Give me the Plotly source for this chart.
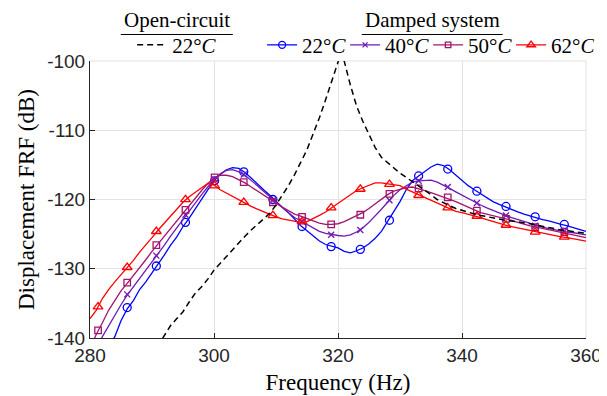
import plotly.graph_objects as go

# ---------------- data ----------------
freq = list(range(280, 361))  # Hz, 1 Hz grid

damped_22 = [-146.0, -144.5, -143.0, -141.3, -139.8, -137.5, -135.8, -134.6, -133.0, -131.9,
             -130.5, -129.3, -128.0, -126.6, -125.4, -123.9, -122.7, -121.3, -120.0, -118.6,
             -117.3, -116.4, -115.7, -115.4, -115.5, -116.1, -116.9, -117.8, -118.6, -119.4,
             -120.3, -121.1, -121.9, -122.9, -123.8, -124.5, -125.3, -126.0, -126.5, -126.8,
             -127.0, -127.5, -127.7, -127.4, -127.0, -126.4, -125.6, -124.6, -123.2, -121.8,
             -120.3, -118.6, -117.3, -116.6, -115.9, -115.3, -114.9, -115.1, -115.7, -116.5,
             -117.3, -118.0, -118.6, -119.2, -119.8, -120.3, -120.7, -121.1, -121.4, -121.8,
             -122.1, -122.4, -122.6, -122.9, -123.1, -123.4, -123.6, -123.8, -124.1, -124.4,
             -124.6]

damped_40 = [-143.5, -141.5, -139.8, -138.2, -136.7, -135.2, -133.8, -132.6, -131.4, -130.3,
             -129.0, -127.8, -126.6, -125.3, -124.1, -122.8, -121.6, -120.4, -119.3, -118.2,
             -117.1, -116.3, -115.8, -115.7, -116.0, -116.5, -117.2, -118.0, -118.8, -119.6,
             -120.4, -121.2, -121.9, -122.6, -123.1, -123.6, -124.1, -124.6, -124.9, -125.1,
             -125.2, -125.3, -125.1, -124.7, -124.1, -123.3, -122.4, -121.4, -120.4, -119.4,
             -118.6, -118.0, -117.5, -117.3, -117.2, -117.2, -117.5, -117.9, -118.4, -118.9,
             -119.4, -119.9, -120.4, -120.8, -121.2, -121.6, -122.0, -122.3, -122.6, -122.9,
             -123.2, -123.5, -123.8, -124.0, -124.2, -124.4, -124.6, -124.7, -124.8, -125.0,
             -125.1]

damped_50 = [-141.5, -139.5, -137.8, -136.0, -134.6, -133.2, -132.1, -131.0, -129.9, -128.7,
             -127.5, -126.4, -125.3, -124.1, -123.0, -121.9, -120.8, -119.8, -118.7, -117.7,
             -116.9, -116.5, -116.5, -116.7, -117.1, -117.6, -118.2, -118.8, -119.4, -120.0,
             -120.6, -121.1, -121.6, -122.1, -122.4, -122.8, -123.1, -123.4, -123.6, -123.6,
             -123.5, -123.2, -122.8, -122.4, -121.9, -121.3, -120.6, -119.9, -119.3, -118.8,
             -118.5, -118.3, -118.2, -118.4, -118.7, -119.0, -119.3, -119.6, -119.9, -120.3,
             -120.7, -121.1, -121.5, -121.9, -122.1, -122.3, -122.5, -122.8, -123.0, -123.3,
             -123.6, -123.8, -124.0, -124.2, -124.4, -124.6, -124.7, -124.9, -125.1, -125.3,
             -125.5]

damped_62 = [-137.2, -136.0, -134.3, -133.0, -131.9, -130.9, -129.9, -128.8, -127.6, -126.6,
             -125.5, -124.4, -123.4, -122.4, -121.3, -120.4, -119.6, -118.9, -118.3, -117.7,
             -117.9, -118.6, -119.1, -119.6, -120.1, -120.5, -121.0, -121.4, -121.8, -122.2,
             -122.5, -122.8, -123.0, -123.2, -123.3, -123.2, -122.8, -122.3, -121.8, -121.2,
             -120.6, -119.9, -119.3, -118.7, -118.3, -117.9, -117.6, -117.6, -117.7, -117.8,
             -118.0, -118.5, -118.9, -119.4, -119.8, -120.2, -120.6, -121.0, -121.4, -121.7,
             -121.9, -122.1, -122.3, -122.6, -122.9, -123.2, -123.5, -123.7, -123.9, -124.1,
             -124.3, -124.5, -124.7, -124.9, -125.0, -125.2, -125.4, -125.5, -125.7, -125.9,
             -126.0]

open_freq = [290, 291, 292, 293, 294, 295, 296, 297, 298, 299, 300, 301, 302, 303, 304, 305,
             306, 307, 308, 309, 310, 311, 312, 313, 314, 315, 316, 317, 318, 319, 320, 320.5,
             321, 322, 323, 324, 325, 326, 327, 328, 329, 330, 331, 332, 333, 334, 335, 336,
             337, 338, 339, 340, 341, 342, 343, 344, 345, 346, 347, 348, 349, 350, 351, 352,
             353, 354, 355, 356, 357, 358, 359, 360]
open_22 = [-142.5, -141.0, -139.5, -138.2, -137.2, -136.2, -134.8, -133.5, -132.6, -131.5,
           -130.2, -129.2, -128.3, -127.3, -126.2, -125.3, -124.4, -123.6, -122.9, -122.0,
           -120.8, -119.4, -118.0, -116.4, -114.6, -112.8, -110.5, -108.2, -105.6, -102.8,
           -99.8, -98.8, -100.0, -103.5, -106.5, -108.7, -110.6, -112.5, -113.9, -114.7,
           -115.5, -116.2, -116.8, -117.4, -118.0, -118.6, -119.3, -120.0, -120.5, -120.9,
           -121.3, -121.6, -121.8, -122.1, -122.3, -122.5, -122.7, -122.8, -123.0, -123.1,
           -123.2, -123.3, -123.5, -123.7, -123.9, -124.0, -124.2, -124.4, -124.5, -124.6,
           -124.8, -124.9]

# marker positions
mk_freq = [281.3, 286.0, 290.7, 295.4, 300.1, 304.8, 309.5, 314.2, 318.9, 323.6, 328.3,
           333.0, 337.7, 342.4, 347.1, 351.8, 356.5]
mk_22 = [None, -135.6, -129.6, -123.3, -117.3, -116.0, -120.0, -123.9, -126.8, -127.2, -123.0,
         -116.6, -115.6, -118.8, -121.0, -122.5, -123.6]
mk_40 = [None, -133.7, -128.1, -122.2, -117.1, -116.4, -120.1, -123.2, -125.1, -124.4, -120.1,
         -117.3, -118.2, -120.5, -122.3, -123.8, -124.6]
mk_50 = [-138.9, -132.0, -126.6, -121.5, -116.8, -117.5, -120.4, -122.5, -123.6, -122.2, -119.2,
         -118.4, -119.7, -121.6, -122.8, -124.0, -124.7]
mk_62 = [-135.5, -129.8, -124.6, -120.0, -118.0, -120.4, -122.3, -123.2, -121.2, -118.5, -117.8,
         -119.4, -121.2, -122.4, -123.7, -124.7, -125.4]

series_names = ["22°<i>C</i>", "40°<i>C</i>", "50°<i>C</i>", "62°<i>C</i>"]
open_name = "22°<i>C</i>"
x_ticks = [280, 300, 320, 340, 360]
x_labels = ["280", "300", "320", "340", "360"]
y_ticks = [-140, -130, -120, -110, -100]
y_labels = ["-140", "-130", "-120", "-110", "-100"]

# ---------------- style ----------------
colors = ["#0000FF", "#6E1BB5", "#A3156D", "#FF0000"]
symbols = ["circle-open", "x-thin-open", "square-open", "triangle-up-open"]
msizes = [8, 6, 6.5, 8.5]
SERIF = "Liberation Serif, Times New Roman, DejaVu Serif, serif"
SANS = "Liberation Sans, Arial, Helvetica, sans-serif"

fig = go.Figure()

lines = [damped_22, damped_40, damped_50, damped_62]
marks = [mk_22, mk_40, mk_50, mk_62]
for i in range(4):
    fig.add_trace(go.Scatter(x=freq, y=lines[i], mode="lines",
                             line=dict(color=colors[i], width=1.3),
                             showlegend=False, hoverinfo="skip"))
    fig.add_trace(go.Scatter(x=mk_freq, y=marks[i], mode="markers",
                             marker=dict(symbol=symbols[i], size=msizes[i], color=colors[i],
                                         line=dict(width=1.3, color=colors[i])),
                             showlegend=False, hoverinfo="skip"))

fig.add_trace(go.Scatter(x=open_freq, y=open_22, mode="lines", name=open_name,
                         line=dict(color="black", width=1.5, dash="6px,4px"),
                         legend="legend"))

for i in range(4):
    fig.add_trace(go.Scatter(x=[None], y=[None], mode="lines+markers", name=series_names[i],
                             line=dict(color=colors[i], width=1.3),
                             marker=dict(symbol=symbols[i], size=msizes[i] - 1, color=colors[i],
                                         line=dict(width=1.3, color=colors[i])),
                             legend="legend2"))

legend_common = dict(orientation="h", yanchor="middle", y=1.057, xanchor="left",
                     font=dict(family=SERIF, size=21, color="black"),
                     bgcolor="rgba(0,0,0,0)", borderwidth=0, tracegroupgap=0)

# the page body adds an 8px offset, so the figure is 8px smaller than the window
fig.update_layout(
    width=599, height=388,
    margin=dict(l=82, r=21, t=53, b=58, autoexpand=False),
    paper_bgcolor="white", plot_bgcolor="white",
    legend=dict(x=0.085, **legend_common),
    legend2=dict(x=0.347, entrywidth=38, entrywidthmode="pixels", **legend_common),
    xaxis=dict(range=[280, 360], tickvals=x_ticks, ticktext=x_labels, ticks="inside", ticklen=5,
               tickcolor="#262626", showline=True, linecolor="#262626", linewidth=1,
               showgrid=True, gridcolor="#E3E3E3", gridwidth=1, zeroline=False,
               tickfont=dict(family=SANS, size=19, color="#262626"),
               title=dict(text="Frequency (Hz)", standoff=9,
                          font=dict(family=SERIF, size=23, color="black"))),
    yaxis=dict(range=[-140, -100], tickvals=y_ticks, ticktext=y_labels, ticks="inside", ticklen=5,
               tickcolor="#262626", showline=True, linecolor="#262626", linewidth=1,
               showgrid=True, gridcolor="#E3E3E3", gridwidth=1, zeroline=False,
               tickfont=dict(family=SANS, size=19, color="#262626"),
               title=dict(text="Displacement FRF (dB)", standoff=6,
                          font=dict(family=SERIF, size=23, color="black"))),
    annotations=[
        dict(text="Open-circuit", xref="paper", yref="paper", x=0.175, y=1.0975,
             xanchor="center", yanchor="bottom", showarrow=False,
             font=dict(family=SERIF, size=21, color="black")),
        dict(text="Damped system", xref="paper", yref="paper", x=0.69, y=1.0975,
             xanchor="center", yanchor="bottom", showarrow=False,
             font=dict(family=SERIF, size=21, color="black")),
    ],
    shapes=[
        dict(type="line", xref="paper", yref="paper", x0=0.062, x1=0.288, y0=1.0957, y1=1.0957,
             line=dict(color="black", width=1)),
        dict(type="line", xref="paper", yref="paper", x0=0.548, x1=0.832, y0=1.0957, y1=1.0957,
             line=dict(color="black", width=1)),
        dict(type="line", xref="paper", yref="paper", x0=0, x1=1, y0=1, y1=1,
             line=dict(color="#E3E3E3", width=1), layer="below"),
        dict(type="line", xref="paper", yref="paper", x0=1, x1=1, y0=0, y1=1,
             line=dict(color="#E3E3E3", width=1), layer="below"),
    ],
)

fig.write_html("out.html")
